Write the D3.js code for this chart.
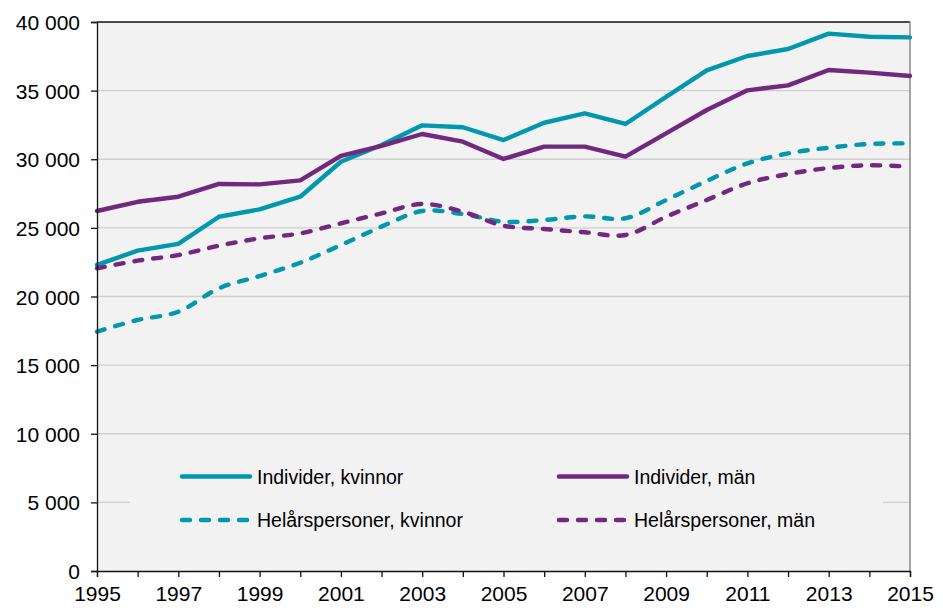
<!DOCTYPE html>
<html>
<head>
<meta charset="utf-8">
<script src="https://cdn.jsdelivr.net/npm/d3@7"></script>
<style>
  body { margin: 0; background: #fff; }
  svg { display: block; font-family: "Liberation Sans", Arial, sans-serif; }
</style>
</head>
<body>
<div id="chart"></div>
<script>
const years = d3.range(1995, 2016)
const yearLabels = d3.range(1995, 2016, 2)
const yTicks = d3.range(0, 40001, 5000)

const indKvinnor = [22300, 23340, 23830, 25810, 26350, 27270, 29820, 31040, 32470, 32330,
    31400, 32660, 33350, 32570, 34540, 36480, 37520, 38030, 39150, 38930, 38880]
const indMan = [26230, 26900, 27270, 28200, 28170, 28460, 30240, 30970, 31840, 31280,
    30020, 30920, 30920, 30190, 31890, 33590, 35020, 35380, 36500, 36310, 36070]
const helKvinnor = [17440, 18290, 18890, 20600, 21490, 22460, 23750, 25090, 26230, 26010,
    25450, 25570, 25840, 25700, 27030, 28420, 29700, 30430, 30840, 31110, 31160]
const helMan = [22050, 22610, 23020, 23700, 24240, 24600, 25330, 26060, 26740, 26180,
    25160, 24920, 24680, 24480, 25810, 27030, 28250, 28920, 29360, 29560, 29460]

const teal = '#0098ae'
const purple = '#72287e'

const series = [
    { name: 'Individer, kvinnor', values: indKvinnor, color: teal, dashed: false },
    { name: 'Individer, män', values: indMan, color: purple, dashed: false },
    { name: 'Helårspersoner, kvinnor', values: helKvinnor, color: teal, dashed: true },
    { name: 'Helårspersoner, män', values: helMan, color: purple, dashed: true },
]

const W = 943, H = 608
const m = { left: 97, right: 33, top: 22, bottom: 37 }
const lw = 4.4
const dash = '8,11'

const svg = d3.select('#chart').append('svg').attr('width', W).attr('height', H)

const x = d3.scaleLinear().domain([1995, 2015]).range([m.left, W - m.right])
const y = d3.scaleLinear().domain([0, 40000]).range([H - m.bottom, m.top])

// plot background
svg.append('rect')
    .attr('x', x(1995)).attr('y', y(40000))
    .attr('width', x(2015) - x(1995)).attr('height', y(0) - y(40000))
    .attr('fill', '#f2f2f2')

// gridlines
svg.append('g').selectAll('line').data(yTicks.filter(d => d > 0 && d < 40000)).join('line')
    .attr('x1', x(1995)).attr('x2', x(2015))
    .attr('y1', d => y(d)).attr('y2', d => y(d))
    .attr('stroke', '#cfcfcf').attr('stroke-width', 1.3)

// legend box (covers gridline)
const legX = 130, legY = 452, legW = 753, legH = 100
svg.append('rect').attr('x', legX).attr('y', legY).attr('width', legW).attr('height', legH)
    .attr('fill', '#f2f2f2')

// top and right border
svg.append('line').attr('x1', x(1995)).attr('x2', x(2015)).attr('y1', y(40000)).attr('y2', y(40000))
    .attr('stroke', '#111').attr('stroke-width', 1.3)
svg.append('line').attr('x1', x(2015)).attr('x2', x(2015)).attr('y1', y(40000)).attr('y2', y(0))
    .attr('stroke', '#777').attr('stroke-width', 1.3)

// lines
const lineStraight = d3.line().x((d, i) => x(years[i])).y(d => y(d))
const lineSmooth = d3.line().x((d, i) => x(years[i])).y(d => y(d)).curve(d3.curveCatmullRom.alpha(0.5))

svg.append('g').selectAll('path').data(series).join('path')
    .attr('d', d => (d.dashed ? lineSmooth : lineStraight)(d.values))
    .attr('fill', 'none')
    .attr('stroke', d => d.color)
    .attr('stroke-width', lw)
    .attr('stroke-linejoin', 'round')
    .attr('stroke-linecap', 'round')
    .attr('stroke-dasharray', d => d.dashed ? dash : null)

// axes
const yAxis = svg.append('g').attr('transform', `translate(${x(1995)},0)`)
    .call(d3.axisLeft(y).tickValues(yTicks).tickSize(6).tickPadding(11)
        .tickFormat(d => d3.format(',')(d).replace(/,/g, ' ')))
const xAxis = svg.append('g').attr('transform', `translate(0,${y(0)})`)
    .call(d3.axisBottom(x).tickValues(years).tickSize(6).tickPadding(9)
        .tickFormat(d => yearLabels.includes(d) ? d : ''))

for (const ax of [yAxis, xAxis]) {
    ax.select('.domain').attr('stroke', '#111').attr('stroke-width', 1.3)
    ax.selectAll('.tick line').attr('stroke', '#111').attr('stroke-width', 1.3)
    ax.selectAll('.tick text').attr('fill', '#000').attr('font-size', 21).attr('font-family', '"Liberation Sans", Arial, sans-serif')
}
yAxis.selectAll('.tick text').attr('dy', '0.36em')
xAxis.selectAll('.tick text').attr('dy', '0.72em')

// legend
const legendPos = [
    { lx: 182, ly: 476.5 },
    { lx: 559, ly: 476.5 },
    { lx: 182, ly: 520 },
    { lx: 559, ly: 520 },
]
const leg = svg.append('g').selectAll('g').data(series).join('g')
    .attr('transform', (d, i) => `translate(${legendPos[i].lx},${legendPos[i].ly})`)
leg.append('line').attr('x1', 0).attr('x2', 68)
    .attr('stroke', d => d.color).attr('stroke-width', lw)
    .attr('stroke-linecap', 'round')
    .attr('stroke-dasharray', d => d.dashed ? dash : null)
leg.append('text').attr('x', 75).attr('dy', '0.36em')
    .attr('font-size', 19.5).attr('fill', '#000')
    .text(d => d.name)
</script>
</body>
</html>
